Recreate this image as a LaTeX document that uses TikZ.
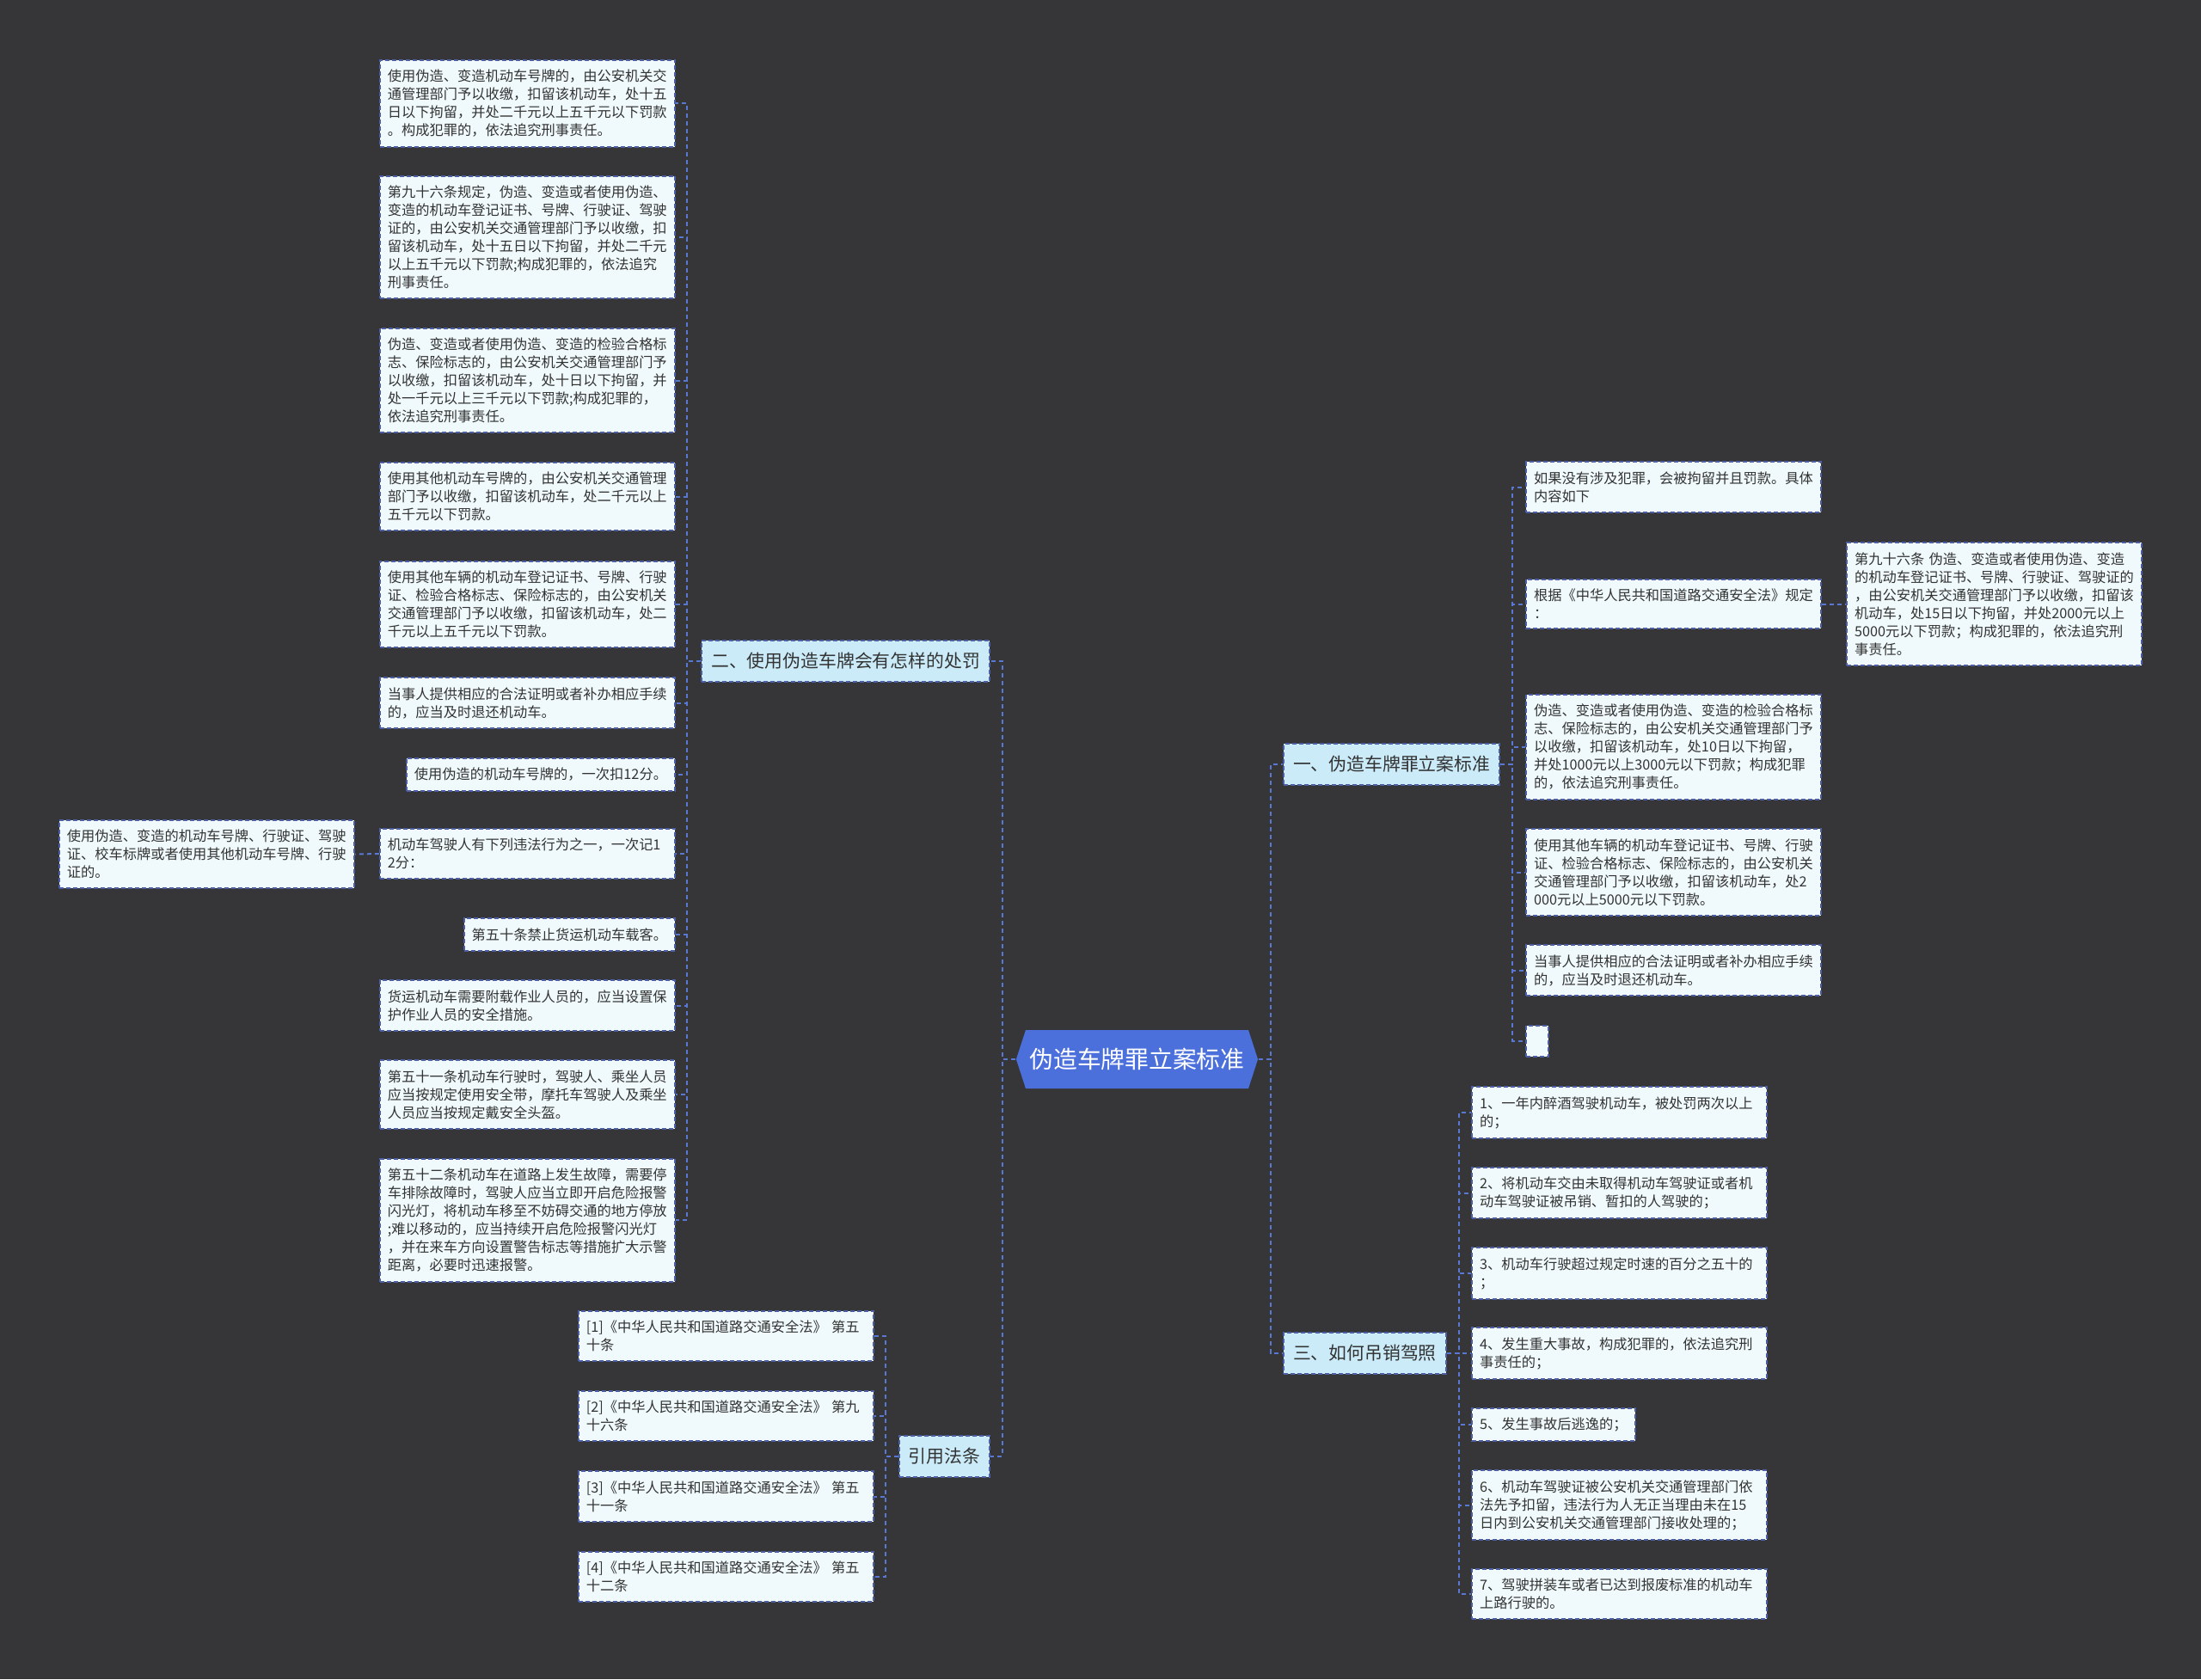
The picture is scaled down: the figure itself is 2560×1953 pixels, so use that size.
\documentclass[tikz,border=0pt]{standalone}
\usepackage{fontspec}
\setmainfont{Noto Sans CJK SC}
\usepackage{xcolor}
\usepackage{tikz}
\usetikzlibrary{shapes.symbols}

\definecolor{bgdark}{HTML}{363537}
\definecolor{leaffill}{HTML}{F0FAFC}
\definecolor{branchfill}{HTML}{CBEBF9}
\definecolor{rootblue}{HTML}{4B6FDB}
\definecolor{edgeblue}{HTML}{4B5EA6}
\definecolor{linkblue}{HTML}{5878D4}
\definecolor{textdark}{HTML}{333333}

\newcommand\leaffont{\fontsize{4.62pt}{5.97pt}\selectfont}
\newcommand\branchfont{\fontsize{5.93pt}{7pt}\selectfont}
\newcommand\rootfont{\fontsize{7.9pt}{9pt}\selectfont}

\tikzstyle{leaf}  =[draw=edgeblue, dash pattern=on 0.05cm off 0.03cm, line width=0.02cm,
                    fill=leaffill, text=textdark, font=\leaffont, align=left,
                    inner xsep=0.09cm, inner ysep=3.2pt]
\tikzstyle{wide}  =[text width=3.25cm]
\tikzstyle{branch}=[draw=edgeblue, dash pattern=on 0.05cm off 0.03cm, line width=0.02cm,
                    fill=branchfill, text=textdark, font=\branchfont,
                    inner xsep=0.11cm, minimum height=0.48cm]
\tikzstyle{link}  =[draw=linkblue, line width=0.02cm, dash pattern=on 0.05cm off 0.04cm]

\begin{document}
\begin{tikzpicture}[x=0.01cm, y=-0.01cm]

  \fill[bgdark] (0,0) rectangle (2560,1953);
  \useasboundingbox (0,0) rectangle (2560,1953);

  % root
  \node[shape=signal, signal to=east and west, signal pointer angle=144, fill=rootblue,
        text=white, font=\rootfont, minimum width=2.81cm, minimum height=0.68cm,
        inner sep=0pt] (root) at (1322.5,1232) {伪造车牌罪立案标准};

  % branches
  \node[branch, anchor=east] (b2) at (1152,769) {二、使用伪造车牌会有怎样的处罚};
  \node[branch, anchor=east] (b4) at (1152,1693.5) {引用法条};
  \node[branch, anchor=west] (b1) at (1492,889) {一、伪造车牌罪立案标准};
  \node[branch, anchor=west] (b3) at (1492,1574) {三、如何吊销驾照};

  % left column
  \node[leaf, wide, anchor=east] (l1) at (786,120) {使用伪造、变造机动车号牌的，由公安机关交\\通管理部门予以收缴，扣留该机动车，处十五\\日以下拘留，并处二千元以上五千元以下罚款\\。构成犯罪的，依法追究刑事责任。};
  \node[leaf, wide, anchor=east] (l2) at (786,276) {第九十六条规定，伪造、变造或者使用伪造、\\变造的机动车登记证书、号牌、行驶证、驾驶\\证的，由公安机关交通管理部门予以收缴，扣\\留该机动车，处十五日以下拘留，并处二千元\\以上五千元以下罚款;构成犯罪的，依法追究\\刑事责任。};
  \node[leaf, wide, anchor=east] (l3) at (786,442.5) {伪造、变造或者使用伪造、变造的检验合格标\\志、保险标志的，由公安机关交通管理部门予\\以收缴，扣留该机动车，处十日以下拘留，并\\处一千元以上三千元以下罚款;构成犯罪的，\\依法追究刑事责任。};
  \node[leaf, wide, anchor=east] (l4) at (786,577.5) {使用其他机动车号牌的，由公安机关交通管理\\部门予以收缴，扣留该机动车，处二千元以上\\五千元以下罚款。};
  \node[leaf, wide, anchor=east] (l5) at (786,703) {使用其他车辆的机动车登记证书、号牌、行驶\\证、检验合格标志、保险标志的，由公安机关\\交通管理部门予以收缴，扣留该机动车，处二\\千元以上五千元以下罚款。};
  \node[leaf, wide, anchor=east] (l6) at (786,817.5) {当事人提供相应的合法证明或者补办相应手续\\的，应当及时退还机动车。};
  \node[leaf, anchor=east] (l7) at (786,900.5) {使用伪造的机动车号牌的，一次扣12分。};
  \node[leaf, wide, anchor=east] (l8) at (786,993) {机动车驾驶人有下列违法行为之一，一次记1\\2分：};
  \node[leaf, wide, anchor=east] (l8a) at (413,993.5) {使用伪造、变造的机动车号牌、行驶证、驾驶\\证、校车标牌或者使用其他机动车号牌、行驶\\证的。};
  \node[leaf, anchor=east] (l9) at (786,1087) {第五十条禁止货运机动车载客。};
  \node[leaf, wide, anchor=east] (l10) at (786,1169.5) {货运机动车需要附载作业人员的，应当设置保\\护作业人员的安全措施。};
  \node[leaf, wide, anchor=east] (l11) at (786,1273) {第五十一条机动车行驶时，驾驶人、乘坐人员\\应当按规定使用安全带，摩托车驾驶人及乘坐\\人员应当按规定戴安全头盔。};
  \node[leaf, wide, anchor=east] (l12) at (786,1419) {第五十二条机动车在道路上发生故障，需要停\\车排除故障时，驾驶人应当立即开启危险报警\\闪光灯，将机动车移至不妨碍交通的地方停放\\;难以移动的，应当持续开启危险报警闪光灯\\，并在来车方向设置警告标志等措施扩大示警\\距离，必要时迅速报警。};

  % references
  \node[leaf, wide, anchor=east] (r1) at (1017,1554) {[1]《中华人民共和国道路交通安全法》 第五\\十条};
  \node[leaf, wide, anchor=east] (r2) at (1017,1647) {[2]《中华人民共和国道路交通安全法》 第九\\十六条};
  \node[leaf, wide, anchor=east] (r3) at (1017,1740.5) {[3]《中华人民共和国道路交通安全法》 第五\\十一条};
  \node[leaf, wide, anchor=east] (r4) at (1017,1834) {[4]《中华人民共和国道路交通安全法》 第五\\十二条};

  % right upper
  \node[leaf, wide, anchor=west] (c1) at (1774,566.5) {如果没有涉及犯罪，会被拘留并且罚款。具体\\内容如下};
  \node[leaf, wide, anchor=west] (c2) at (1774,702.5) {根据《中华人民共和国道路交通安全法》规定\\：};
  \node[leaf, wide, anchor=west] (c2a) at (2147,702.5) {第九十六条 伪造、变造或者使用伪造、变造\\的机动车登记证书、号牌、行驶证、驾驶证的\\，由公安机关交通管理部门予以收缴，扣留该\\机动车，处15日以下拘留，并处2000元以上\\5000元以下罚款；构成犯罪的，依法追究刑\\事责任。};
  \node[leaf, wide, anchor=west] (c3) at (1774,868.5) {伪造、变造或者使用伪造、变造的检验合格标\\志、保险标志的，由公安机关交通管理部门予\\以收缴，扣留该机动车，处10日以下拘留，\\并处1000元以上3000元以下罚款；构成犯罪\\的，依法追究刑事责任。};
  \node[leaf, wide, anchor=west] (c4) at (1774,1014.5) {使用其他车辆的机动车登记证书、号牌、行驶\\证、检验合格标志、保险标志的，由公安机关\\交通管理部门予以收缴，扣留该机动车，处2\\000元以上5000元以下罚款。};
  \node[leaf, wide, anchor=west] (c5) at (1774,1128.5) {当事人提供相应的合法证明或者补办相应手续\\的，应当及时退还机动车。};
  \node[leaf, anchor=west, minimum width=0.26cm, minimum height=0.36cm, inner sep=0pt] (c6) at (1774,1211) {};

  % right lower
  \node[leaf, wide, anchor=west] (d1) at (1711,1294) {1、一年内醉酒驾驶机动车，被处罚两次以上\\的；};
  \node[leaf, wide, anchor=west] (d2) at (1711,1387.5) {2、将机动车交由未取得机动车驾驶证或者机\\动车驾驶证被吊销、暂扣的人驾驶的；};
  \node[leaf, wide, anchor=west] (d3) at (1711,1481) {3、机动车行驶超过规定时速的百分之五十的\\；};
  \node[leaf, wide, anchor=west] (d4) at (1711,1574) {4、发生重大事故，构成犯罪的，依法追究刑\\事责任的；};
  \node[leaf, anchor=west] (d5) at (1711,1657) {5、发生事故后逃逸的；};
  \node[leaf, wide, anchor=west] (d6) at (1711,1750.5) {6、机动车驾驶证被公安机关交通管理部门依\\法先予扣留，违法行为人无正当理由未在15\\日内到公安机关交通管理部门接收处理的；};
  \node[leaf, wide, anchor=west] (d7) at (1711,1854) {7、驾驶拼装车或者已达到报废标准的机动车\\上路行驶的。};

  % connectors
  \foreach \n in {b2,b4}
    \draw[link] (root.west) -- ++(-15,0) |- (\n.east);
  \foreach \n in {b1,b3}
    \draw[link] (root.east) -- ++(14,0) |- (\n.west);
  \foreach \n in {l1,l2,l3,l4,l5,l6,l7,l8,l9,l10,l11,l12}
    \draw[link] (b2.west) -- ++(-16,0) |- (\n.east);
  \draw[link] (l8.west) -- (l8a.east);
  \foreach \n in {r1,r2,r3,r4}
    \draw[link] (b4.west) -- ++(-15,0) |- (\n.east);
  \foreach \n in {c1,c2,c3,c4,c5,c6}
    \draw[link] (b1.east) -- ++(14,0) |- (\n.west);
  \draw[link] (c2.east) -- (c2a.west);
  \foreach \n in {d1,d2,d3,d4,d5,d6,d7}
    \draw[link] (b3.east) -- ++(14,0) |- (\n.west);

\end{tikzpicture}
\end{document}
